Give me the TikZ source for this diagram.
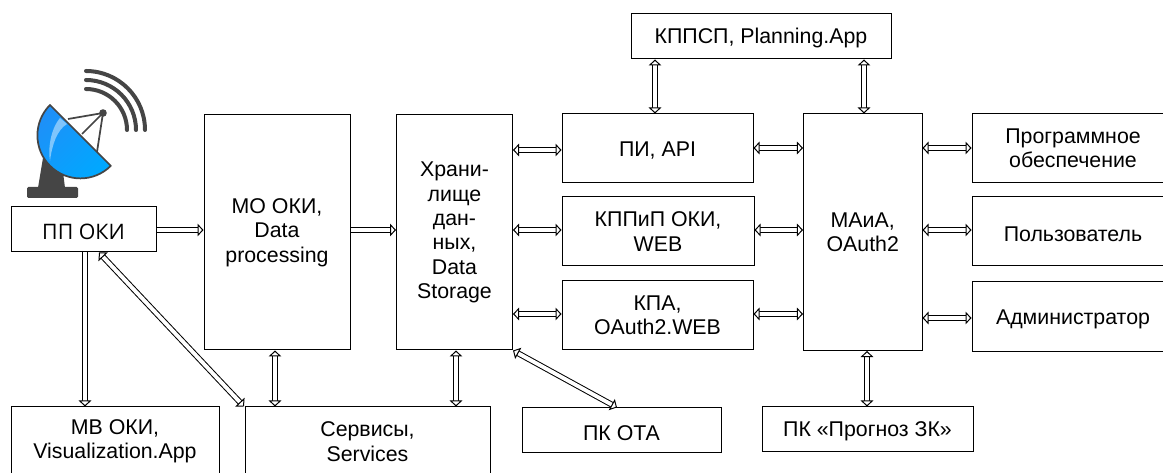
\documentclass[tikz,border=0pt]{standalone}
\usepackage{fontspec}
\setmainfont{Liberation Sans}
\newfontfamily\okifont{Open Sans}
\usepackage{tikz}
\usetikzlibrary{arrows.meta}
\definecolor{dishgray}{HTML}{454545}
\definecolor{dishblue}{HTML}{1E90F8}
\definecolor{dishcyan}{HTML}{00A8FF}
\tikzset{
  blk/.style={draw, line width=0.75pt, inner sep=0pt, align=center, font=\fontsize{16}{18.3}\selectfont,
    execute at begin node={\rule{0pt}{14.5pt}}},
  dbl/.style={draw, line width=0.75pt, double=white, double distance=2.9pt,
    {Triangle[open, length=4.5pt, width=9.5pt, fill=white]}-{Triangle[open, length=4.5pt, width=9.5pt, fill=white]}},
  one/.style={draw, line width=0.75pt, double=white, double distance=2.9pt,
    -{Triangle[open, length=4.5pt, width=9.5pt, fill=white]}}
}

\begin{document}
\begin{tikzpicture}[x=0.75pt, y=-0.75pt]
  \clip (0,0) rectangle (1163,473);

  % antenna
  \draw[dishgray, line width=3pt, line cap=round] (86,71) arc[start angle=-90, end angle=0, radius=59];
  \draw[dishgray, line width=3pt, line cap=round] (86,80) arc[start angle=-90, end angle=0, radius=50];
  \draw[dishgray, line width=3pt, line cap=round] (86,89) arc[start angle=-90, end angle=0, radius=41];
  \fill[dishgray] (43,158) -- (38,188) -- (65,188) -- (63,172) -- cycle;
  \fill[dishgray, rounded corners=1pt] (27,187) rectangle (78,198);
  \draw[dishgray, line width=1.3pt] (68,119) -- (103,113) -- (82,134);
  \draw[dishgray, line width=1.3pt] (103,113) -- (97,152);
  \fill[dishgray] (103,113) circle [radius=3.8];
  \draw[dishgray, line width=1.3pt, line join=round, left color=dishblue, right color=dishcyan, shading angle=45]
    (50,105) arc[start angle=225, end angle=45, radius=43] -- cycle;
  \fill[white, opacity=0.45] (60,118) .. controls (50,130) and (48,150) .. (50,161)
    .. controls (52,145) and (57,130) .. (67,124) -- cycle;

  % blocks
  \node[blk, minimum width=108.75pt, minimum height=33.75pt, font=\okifont\fontsize{16}{18}\selectfont] (PP) at (83.5,229.5) {ПП ОКИ};
  \node[blk, minimum width=109.5pt, minimum height=176.25pt] (MO) at (277,232.5) {МО ОКИ,\\Data\\processing};
  \node[blk, minimum width=87pt, minimum height=176.25pt] (HR) at (454.5,232.5) {Храни-\\лище\\дан-\\ных,\\Data\\Storage};
  \node[blk, minimum width=143.25pt, minimum height=51.75pt] (PI) at (657.5,148.5) {ПИ, API};
  \node[blk, minimum width=144pt, minimum height=51.75pt] (KP) at (658,231.5) {КППиП ОКИ,\\WEB};
  \node[blk, minimum width=143.25pt, minimum height=51.75pt] (KA) at (657.5,315.5) {КПА,\\OAuth2.WEB};
  \node[blk, minimum width=88.9pt, minimum height=177.4pt] (MA) at (862.75,232.25) {МАиА,\\OAuth2};
  \node[blk, minimum width=195pt, minimum height=33.75pt] (PL) at (761,36.5) {КППСП, Planning.App};
  \node[blk, minimum width=151.5pt, minimum height=51.75pt] (SW) at (1073,148.5) {Программное\\обеспечение};
  \node[blk, minimum width=151.5pt, minimum height=51.75pt] (US) at (1073,231.5) {Пользователь};
  \node[blk, minimum width=151.5pt, minimum height=52.5pt] (AD) at (1073,317) {Администратор};
  \node[blk, minimum width=156pt, minimum height=51.75pt] (MV) at (115,441.5) {МВ ОКИ,\\Visualization.App};
  \node[blk, minimum width=183.75pt, minimum height=51.75pt] (SR) at (367.5,441.5) {Сервисы,\\Services};
  \node[blk, minimum width=149.25pt, minimum height=33.75pt] (OT) at (621.5,430.5) {ПК ОТА};
  \node[blk, minimum width=158.25pt, minimum height=33.75pt] (PG) at (867.5,429.5) {ПК «Прогноз ЗК»};

  % links
  \draw[one] (PP.east |- 0,230) to (MO.west |- 0,230);
  \draw[one] (MO.east |- 0,230) to (HR.west |- 0,230);
  \draw[one] (85,0 |- PP.south) to (85,0 |- MV.north);
  \draw[dbl] (99,0 |- PP.south) to (244,0 |- SR.north);
  \draw[dbl] (275,0 |- MO.south) to (275,0 |- SR.north);
  \draw[dbl] (456,0 |- HR.south) to (456,0 |- SR.north);
  \draw[dbl] (HR.south east) to (617,0 |- OT.north);

  \draw[dbl] (HR.east |- 0,150) to (PI.west |- 0,150);
  \draw[dbl] (HR.east |- 0,230) to (KP.west |- 0,230);
  \draw[dbl] (HR.east |- 0,314) to (KA.west |- 0,314);
  \draw[dbl] (PI.east |- 0,148) to (MA.west |- 0,148);
  \draw[dbl] (KP.east |- 0,230) to (MA.west |- 0,230);
  \draw[dbl] (KA.east |- 0,314) to (MA.west |- 0,314);
  \draw[dbl] (MA.east |- 0,148) to (SW.west |- 0,148);
  \draw[dbl] (MA.east |- 0,230) to (US.west |- 0,230);
  \draw[dbl] (MA.east |- 0,318) to (AD.west |- 0,318);

  \draw[dbl] (655,0 |- PL.south) to (655,0 |- PI.north);
  \draw[dbl] (864,0 |- PL.south) to (864,0 |- MA.north);
  \draw[dbl] (867,0 |- MA.south) to (867,0 |- PG.north);
\end{tikzpicture}
\end{document}
